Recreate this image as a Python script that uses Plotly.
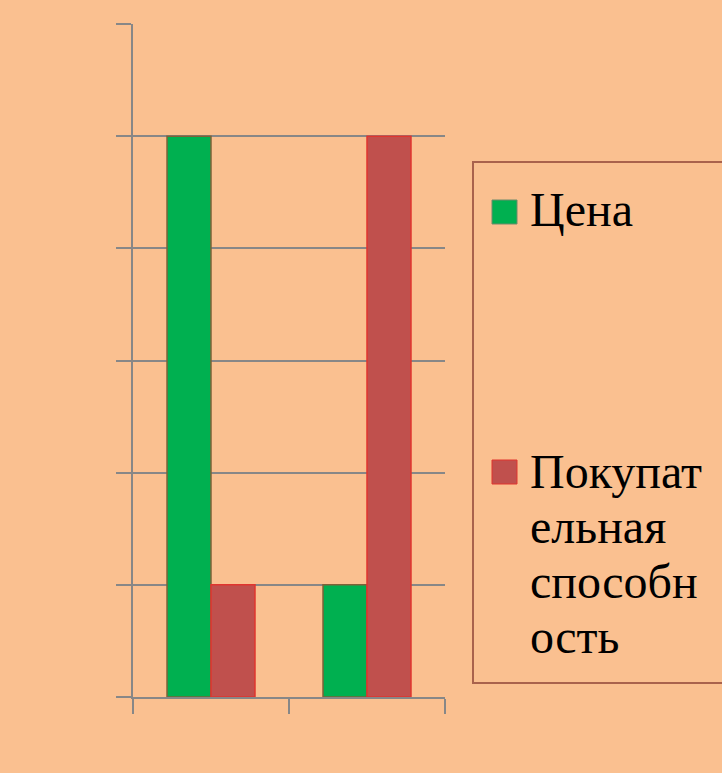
import plotly.graph_objects as go

categories = ["1", "2"]
series_names = ["Цена", "Покупательная способность"]
legend_lines = [["Цена"], ["Покупат", "ельная", "способн", "ость"]]
price = [100, 20]
power = [20, 100]
y_ticks = [0, 20, 40, 60, 80, 100, 120]

BG = "#FAC090"
GRID = "#878787"
colors = ["#00B050", "#C0504D"]
outlines = ["#7E6238", "#E0352F"]
TICK_FONT = "DejaVu Serif"
LEG_FONT = "Liberation Serif"

W, H = 722, 773
L, R, T, B = 133, 277, 24, 76
PW, PH = W - L - R, H - T - B

def px(x):
    return (x - L) / PW

def py(y):
    return (H - B - y) / PH

fig = go.Figure()
for name, vals, c, oc in zip(series_names, [price, power], colors, outlines):
    fig.add_trace(go.Bar(x=categories, y=vals, name=name, marker=dict(color=c, line=dict(color=oc, width=1.5)),
                         showlegend=False))

tickfont = dict(family=TICK_FONT, size=40, color="black")
fig.update_layout(
    width=W, height=H,
    font=dict(family=LEG_FONT, color="black"),
    margin=dict(l=L, r=R, t=T, b=B, pad=0),
    paper_bgcolor=BG, plot_bgcolor=BG,
    barmode="group", bargap=0.436, bargroupgap=0,
    xaxis=dict(type="category", range=[-0.5, 1.5], tickson="boundaries", ticks="outside", ticklen=15,
               tickwidth=1.5, tickcolor=GRID, showline=True, linecolor=GRID, linewidth=1.5,
               showgrid=False, showticklabels=False, automargin=False),
    xaxis2=dict(overlaying="x", anchor="y", side="bottom", type="linear", range=[-0.5, 1.5],
                tickmode="array", tickvals=[0, 1], ticktext=categories, ticks="outside", ticklen=39,
                tickcolor="rgba(0,0,0,0)", showgrid=False, showline=False, zeroline=False,
                automargin=False, tickfont=tickfont),
    yaxis=dict(range=[0, 120], tickvals=y_ticks, ticks="outside", ticklen=15, tickwidth=1.5,
               tickcolor=GRID, showline=True, linecolor=GRID, linewidth=1.5, showgrid=True,
               gridcolor=GRID, gridwidth=1.5, zeroline=False, automargin=False, showticklabels=False),
    yaxis2=dict(overlaying="y", anchor="x", side="left", range=[0, 120], tickmode="array",
                tickvals=y_ticks, ticks="outside", ticklen=30, tickcolor="rgba(0,0,0,0)",
                showgrid=False, showline=False, zeroline=False, automargin=False, tickfont=tickfont),
)

# legend box
fig.add_shape(type="rect", xref="paper", yref="paper", x0=px(473), x1=px(730), y0=py(683), y1=py(162),
              line=dict(color="#A9624C", width=2), fillcolor="rgba(0,0,0,0)")

sq_tops = [200, 460]
text_baselines = [[225], [487, 542, 597, 652]]
for i in range(len(series_names)):
    fig.add_shape(type="rect", xref="paper", yref="paper", x0=px(492), x1=px(517),
                  y0=py(sq_tops[i] + 24), y1=py(sq_tops[i]),
                  line=dict(color=outlines[i] if i == 1 else "#6E8A6A", width=1), fillcolor=colors[i])
    for line, base in zip(legend_lines[i], text_baselines[i]):
        fig.add_annotation(xref="paper", yref="paper", x=px(528), y=py(base - 16), xanchor="left",
                           yanchor="middle", text=line, showarrow=False,
                           font=dict(family=LEG_FONT, size=48, color="black"))

post = """
document.body.style.margin='0';
var st = document.createElement('style');
st.textContent = ".annotation-text{font-family:'Liberation Serif',serif !important;}" +
                 " .xtick text,.ytick text,.x2tick text,.y2tick text{font-family:'DejaVu Serif',serif !important;}";
document.head.appendChild(st);
"""
fig.write_html("out.html", config={"displayModeBar": False}, post_script=post)
